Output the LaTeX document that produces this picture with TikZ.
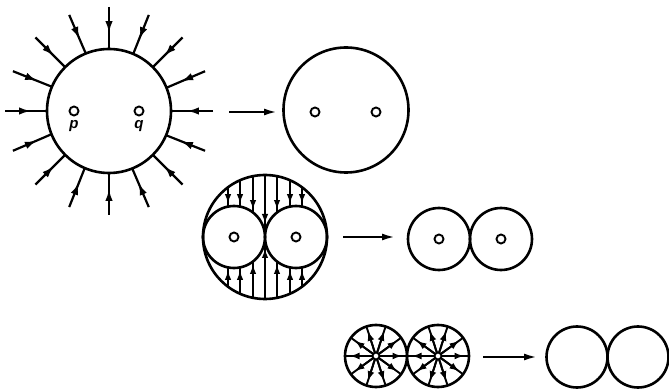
\documentclass[tikz,border=0pt]{standalone}
\usepackage{fontspec}
\newfontfamily\lblfont{Liberation Sans}
\usetikzlibrary{arrows.meta,calc,decorations.markings}
\begin{document}
\begin{tikzpicture}[x=1pt,y=1pt,line width=2.6pt,
  ring/.style={circle,draw,inner sep=0pt,outer sep=0pt,minimum size=#1},
  hole/.style={circle,draw,fill=white,line width=1.9pt,inner sep=0pt,outer sep=0pt,minimum size=#1},
  midtip/.style={postaction={decorate},decoration={markings,
      mark=at position 0.62 with {\arrow{Latex[length=12pt,width=7.5pt]}}}},
  smalltip/.style={-{Latex[length=10pt,width=6.5pt]}},
  spoketip/.style={-{Latex[length=9.5pt,width=7pt]}},
  linktip/.style={-{Latex[length=13pt,width=7pt]}},
  lbl/.style={font=\lblfont\fontsize{15}{15}\selectfont\bfseries\itshape,inner sep=0pt}]
\useasboundingbox (0,0) rectangle (669,391);

% ---------- figure 1 ----------
\node[ring=124pt] (A) at (109,280) {};
\node[hole=9pt] (p) at (74,280) {};
\node[hole=9pt] (q) at (139,280) {};
\node[lbl] (pl) at (74,265) {p};
\node[lbl] (ql) at (139,265) {q};
\foreach \a [count=\i] in {0,22.5,...,337.5}{
  \coordinate (o\i) at ($(A.center)+(\a:104)$);
  \draw[midtip,line width=2.2pt] (o\i) -- (A.\a);
}

% ---------- arrow 1 ----------
\coordinate (s1) at (229,279);
\coordinate (e1) at (277,279);
\draw[linktip,line width=2.2pt] (s1) -- (e1);

% ---------- figure 2 ----------
\node[ring=125pt] (B) at (346,281) {};
\node[hole=9pt] (B1) at (315,279) {};
\node[hole=9pt] (B2) at (376,279) {};

% ---------- figure 3 ----------
\node[ring=124pt] (M) at (265,154) {};
\node[ring=62pt] (L) at (234,154) {};
\node[ring=62pt] (R) at (296,154) {};
\node[hole=9pt] (Lh) at (234,154) {};
\node[hole=9pt] (Rh) at (296,154) {};
\foreach \d in {-37,-25,-12,12,25,37}{
  \pgfmathsetmacro\yo{sqrt(62*62-\d*\d)}
  \pgfmathsetmacro\yi{sqrt(31*31-(abs(\d)-31)*(abs(\d)-31))}
  \coordinate (to) at ({265+\d},{154+\yo});
  \coordinate (ti) at ({265+\d},{154+\yi});
  \coordinate (bo) at ({265+\d},{154-\yo});
  \coordinate (bi) at ({265+\d},{154-\yi});
  \draw[line width=2pt] (to) -- (ti);
  \draw[line width=2pt] (bo) -- (bi);
  \draw[smalltip,line width=2pt,shorten >=2.5pt] (to) -- (ti);
  \draw[smalltip,line width=2pt,shorten >=2.5pt] (bo) -- (bi);
}
\coordinate (mc) at (265,154);
\draw[line width=2pt] (M.north) -- (M.south);
\draw[smalltip,line width=2pt,shorten >=13pt] (M.north) -- (mc);
\draw[smalltip,line width=2pt,shorten >=11pt] (M.south) -- (mc);

% ---------- arrow 2 ----------
\coordinate (s2) at (343,154);
\coordinate (e2) at (395,154);
\draw[linktip,line width=2.2pt] (s2) -- (e2);

% ---------- figure 4 ----------
\node[ring=62pt] (C1) at (439,152) {};
\node[ring=62pt] (C2) at (501,152) {};
\node[hole=9pt] (C1h) at (439,152) {};
\node[hole=9pt] (C2h) at (501,152) {};

% ---------- figure 5 ----------
\node[ring=62pt] (D1) at (376,35) {};
\node[ring=62pt] (D2) at (438,35) {};
\foreach \c in {D1,D2}{
  \foreach \a in {0,36,...,324}{
    \draw[line width=1.9pt] (\c.center) -- (\c.\a);
    \draw[spoketip,line width=1.9pt] (\c.center) -- ($(\c.center)+(\a:26)$);
  }
  \node[hole=7pt] (\c h) at (\c.center) {};
}

% ---------- arrow 3 ----------
\coordinate (s3) at (483,34);
\coordinate (e3) at (537,34);
\draw[linktip,line width=2.2pt] (s3) -- (e3);

% ---------- figure 6 ----------
\node[ring=61pt] (E1) at (577,34) {};
\node[ring=61pt] (E2) at (638,34) {};
\end{tikzpicture}
\end{document}
